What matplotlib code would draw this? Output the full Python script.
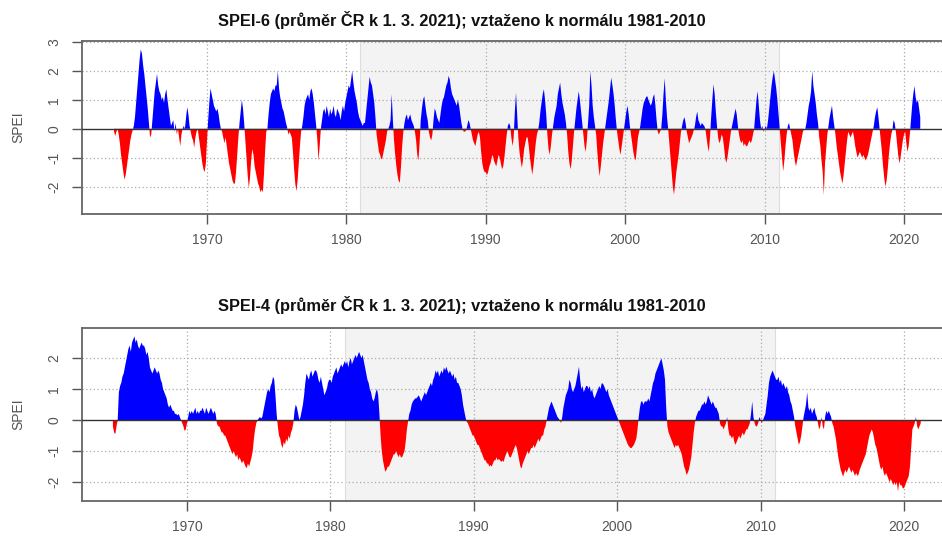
import numpy as np
import matplotlib
matplotlib.use("Agg")
import matplotlib.pyplot as plt

# ---------------- data (monthly values) ----------------
# SPEI-6, monthly from Jan 1963
spei6_start = 1963
spei6_1960s = [
    np.nan, np.nan, np.nan, np.nan, -0.1, -0.25, -0.1, 0.0, -0.2, -0.5, -0.9, -1.2,   # 1963
    -1.5, -1.76, -1.6, -1.3, -1.0, -0.7, -0.4, -0.2, -0.05, 0.1, 0.4, 0.9,          # 1964
    1.4, 1.9, 2.4, 2.75, 2.6, 2.2, 1.9, 1.5, 1.1, 0.7, 0.2, -0.3,                   # 1965
    -0.2, 0.3, 0.8, 1.3, 1.6, 1.9, 1.5, 1.3, 1.2, 1.0, 1.1, 0.9,                    # 1966
    1.2, 1.37, 1.0, 0.7, 0.4, 0.1, 0.2, 0.3, -0.1, 0.2, -0.2, 0.0,                  # 1967
    -0.3, -0.6, -0.2, 0.0, 0.1, 0.0, 0.4, 0.75, 0.5, 0.1, -0.1, -0.3,               # 1968
    -0.4, -0.65, -0.3, -0.1, 0.0, -0.3, -0.6, -0.9, -1.2, -1.4, -1.5, -1.2,         # 1969
]
spei6_1970s = [
    -0.4, 0.3, 0.9, 1.4, 1.2, 1.0, 0.8, 0.7, 0.6, 0.7, 0.5, 0.2,
    0.0, -0.1, -0.3, -0.5, -0.3, -0.6, -0.9, -1.2, -1.4, -1.6, -1.8, -1.9,
    -1.9, -1.5, -0.9, -0.3, 0.2, 0.6, 1.0, 0.7, 0.2, -0.4, -1.0, -1.6,
    -2.05, -1.7, -1.1, -0.7, -0.9, -1.3, -1.5, -1.7, -1.9, -2.0, -2.2, -2.1,
    -2.2, -1.6, -0.8, -0.1, 0.0, 0.5, 0.9, 1.2, 1.3, 1.4, 1.3, 1.5,
    1.5, 2.0, 1.4, 1.1, 0.9, 0.7, 0.6, 0.4, 0.2, 0.05, -0.2, -0.1,
    -0.2, -0.3, -0.8, -1.4, -1.9, -2.16, -1.8, -1.2, -0.6, -0.1, 0.1, 0.4,
    0.8, 1.0, 1.1, 1.2, 1.0, 1.3, 1.4, 1.2, 0.9, 0.5, 0.1, -0.4,
    -1.1, -0.6, 0.0, 0.3, 0.6, 0.7, 0.5, 0.8, 0.6, 0.4, 0.7, 0.5,
    0.6, 0.8, 0.5, 0.4, 0.7, 0.6, 0.5, 0.3, 0.6, 0.8, 0.6, 0.9,
]
spei6_1980s = [
    1.1, 1.3, 1.5, 1.4, 1.7, 2.0, 1.6, 1.3, 1.1, 0.9, 0.6, 0.4,
    0.3, 0.2, 0.1, 0.2, 0.2, 0.6, 1.0, 1.4, 1.8, 1.6, 1.5, 1.2,
    0.9, 0.4, -0.2, -0.5, -0.8, -0.9, -1.06, -1.0, -0.8, -0.6, -0.4, -0.1,
    0.0, 0.1, 0.3, 1.2, 0.3, -0.4, -0.9, -1.3, -1.6, -1.8, -1.87, -1.3,
    -0.6, -0.1, 0.2, 0.4, 0.5, 0.3, 0.4, 0.5, 0.3, 0.2, 0.1, -0.1,
    -0.4, -0.9, -1.1, -0.5, 0.3, 0.7, 1.0, 1.13, 0.8, 0.5, 0.3, -0.1,
    -0.3, -0.4, -0.2, 0.3, 0.7, 0.6, 0.4, 0.3, 0.2, 0.5, 0.8, 1.0,
    1.1, 1.3, 1.5, 1.6, 1.83, 1.7, 1.4, 1.2, 1.1, 1.0, 0.9, 0.8,
    1.0, 0.8, 0.5, 0.2, 0.0, -0.1, -0.1, -0.05, 0.1, 0.3, 0.2, 0.0,
    -0.2, -0.4, -0.5, -0.6, -0.4, -0.2, -0.1, -0.3, -0.8, -1.2, -1.4, -1.5,
]
spei6_1990s = [
    -1.5, -1.6, -1.5, -1.3, -1.2, -1.0, -0.9, -1.1, -1.2, -1.3, -1.1, -0.9,
    -1.0, -1.2, -1.4, -1.3, -1.0, -0.6, -0.2, 0.1, 0.2, 0.1, -0.3, -0.6,
    -0.3, 0.6, 1.25, 0.5, -0.3, -0.8, -1.1, -1.35, -1.1, -0.7, -0.5, -0.3,
    -0.3, -0.6, -1.0, -1.3, -1.59, -1.3, -0.9, -0.5, -0.2, -0.05, 0.2, 0.6,
    0.9, 1.2, 1.37, 1.0, 0.5, -0.2, -0.7, -0.9, -0.6, -0.2, 0.1, 0.4,
    0.6, 0.8, 1.2, 1.4, 1.6, 1.2, 0.9, 0.7, 0.5, 0.2, -0.2, -0.8,
    -1.2, -1.4, -1.1, -0.6, -0.1, 0.3, 0.7, 1.0, 1.3, 1.0, 0.6, 0.2,
    -0.2, -0.6, -0.8, -0.4, 0.2, 0.8, 2.0, 1.5, 0.8, 0.4, 0.1, -0.2,
    -0.8, -1.3, -1.64, -1.3, -0.9, -0.5, -0.2, 0.1, 0.4, 0.7, 1.0, 1.4,
    1.77, 1.5, 1.2, 0.8, 0.3, -0.1, -0.4, -0.7, -0.9, -0.6, -0.3, 0.0,
]
spei6_2000s = [
    0.3, 0.6, 0.8, 0.5, 0.1, -0.2, -0.5, -0.8, -1.0, -1.1, -0.7, -0.3,
    -0.1, 0.1, 0.4, 0.7, 0.9, 1.0, 1.1, 1.13, 1.0, 0.9, 0.8, 0.9,
    1.1, 1.2, 0.8, 0.3, -0.1, -0.2, -0.1, 0.0, 0.5, 1.2, 1.75, 1.0,
    0.4, 0.0, -0.5, -1.0, -1.5, -2.0, -2.28, -1.9, -1.5, -1.2, -0.9, -0.5,
    -0.1, 0.1, 0.3, 0.4, 0.2, -0.1, -0.3, -0.5, -0.4, -0.3, -0.2, -0.05,
    0.1, 0.4, 0.6, 0.3, 0.2, 0.1, 0.2, 0.15, 0.1, 0.0, -0.3, -0.6,
    -0.8, -0.3, 0.4, 1.0, 1.54, 1.2, 0.6, 0.1, -0.3, -0.5, -0.4, -0.2,
    -0.3, -0.6, -1.0, -1.18, -1.0, -0.7, -0.4, -0.1, 0.1, 0.3, 0.5, 0.7,
    0.5, 0.1, -0.2, -0.4, -0.5, -0.4, -0.6, -0.5, -0.6, -0.6, -0.5, -0.4,
    -0.5, -0.4, -0.2, 0.0, 0.5, 1.0, 1.3, 0.8, 0.3, 0.0, 0.1, -0.1,
]
spei6_2010s = [
    0.0, 0.1, 0.0, 0.3, 0.7, 1.1, 1.5, 1.8, 2.0, 1.7, 1.4, 1.0,
    0.5, 0.0, -0.5, -1.0, -1.47, -1.1, -0.6, -0.2, 0.1, 0.2, 0.0, -0.2,
    -0.4, -0.8, -1.1, -1.3, -1.1, -0.9, -0.7, -0.5, -0.3, -0.1, 0.0, 0.0,
    0.2, 0.5, 0.8, 1.0, 1.3, 2.0, 1.48, 1.2, 0.9, 0.5, 0.2, -0.3,
    -0.6, -1.1, -1.5, -2.3, -1.2, -0.7, -0.2, 0.1, 0.4, 0.6, 0.8, 0.4,
    0.1, -0.2, -0.6, -0.9, -1.2, -1.5, -1.7, -1.9, -1.6, -1.2, -0.8, -0.4,
    -0.1, -0.2, -0.3, -0.2, -0.1, -0.3, -0.6, -0.8, -1.0, -0.9, -0.8, -0.9,
    -1.0, -0.9, -1.0, -1.1, -1.0, -0.9, -0.7, -0.5, -0.3, -0.1, 0.1, 0.4,
    0.6, 0.75, 0.4, 0.0, -0.4, -0.8, -1.3, -1.7, -2.0, -1.8, -1.4, -0.9,
    -0.5, -0.2, -0.05, 0.3, 0.2, -0.1, -0.5, -0.9, -1.2, -1.0, -0.7, -0.4,
]
spei6_2020s = [
    -0.2, -0.1, -0.5, -0.8, -0.6, -0.2, 0.3, 0.8, 1.2, 1.48, 1.1, 0.9,
    1.0, 0.7, 0.4,
]

# SPEI-4 (long-term index), monthly from Jan 1964
spei4_start = 1964
spei4_1960s = [
    np.nan, np.nan, np.nan, np.nan, np.nan, np.nan, np.nan, np.nan, np.nan, np.nan, -0.2, -0.4,  # 1964
    -0.45, -0.2, 0.0, 0.9, 1.1, 1.2, 1.4, 1.5, 1.7, 1.9, 2.1, 2.3,
    2.4, 2.2, 2.5, 2.6, 2.7, 2.5, 2.6, 2.4, 2.3, 2.4, 2.5, 2.4,
    2.4, 2.3, 2.1, 2.2, 2.0, 1.7, 1.6, 1.5, 1.6, 1.7, 1.6, 1.5,
    1.6, 1.5, 1.3, 1.2, 1.0, 0.9, 0.8, 0.7, 0.5, 0.4, 0.5, 0.4,
    0.3, 0.3, 0.2, 0.2, 0.15, 0.2, 0.1, 0.0, -0.1, -0.2, -0.35, -0.3,
]
spei4_1970s = [
    -0.1, 0.1, 0.3, 0.2, 0.3, 0.2, 0.3, 0.4, 0.2, 0.3, 0.2, 0.3,
    0.3, 0.4, 0.3, 0.2, 0.4, 0.3, 0.2, 0.3, 0.4, 0.3, 0.2, 0.3,
    0.2, -0.1, -0.2, -0.2, -0.3, -0.4, -0.4, -0.5, -0.5, -0.6, -0.7, -0.8,
    -0.9, -1.0, -1.1, -1.0, -1.1, -1.2, -1.1, -1.3, -1.2, -1.3, -1.4, -1.3,
    -1.4, -1.5, -1.55, -1.4, -1.5, -1.35, -1.2, -1.0, -0.6, -0.3, -0.1, 0.0,
    0.05, 0.1, 0.05, 0.1, 0.3, 0.5, 0.7, 0.9, 1.0, 0.9, 1.1, 1.2,
    1.4, 1.3, 0.8, 0.2, -0.2, -0.5, -0.6, -0.8, -0.9, -0.7, -0.8, -0.6,
    -0.7, -0.5, -0.6, -0.4, -0.3, -0.1, 0.3, 0.5, 0.4, 0.2, 0.0, 0.1,
    0.3, 0.5, 0.8, 1.2, 1.5, 1.4, 1.3, 1.5, 1.6, 1.4, 1.5, 1.6,
    1.6, 1.5, 1.3, 1.2, 1.4, 1.2, 1.0, 0.8, 0.9, 1.0, 1.2, 1.3,
]
spei4_1980s = [
    1.3, 1.2, 1.4, 1.5, 1.6, 1.7, 1.5, 1.6, 1.7, 1.8, 1.7, 1.8,
    1.9, 1.8, 1.9, 1.7, 1.9, 2.0, 1.8, 1.9, 2.0, 2.1, 2.0, 2.1,
    2.2, 2.1, 2.0, 2.1, 1.9, 1.7, 1.5, 1.3, 1.2, 1.0, 0.9, 0.7,
    0.6, 0.7, 0.9, 1.0, 0.8, 0.2, -0.5, -1.0, -1.3, -1.5, -1.67, -1.6,
    -1.5, -1.5, -1.4, -1.3, -1.2, -1.1, -1.1, -1.0, -1.1, -1.2, -1.1, -1.2,
    -1.2, -1.1, -1.0, -0.7, -0.3, -0.05, 0.2, 0.3, 0.5, 0.6, 0.65, 0.7,
    0.7, 0.75, 0.8, 0.7, 0.6, 0.7, 0.8, 0.9, 0.8, 0.9, 1.0, 1.1,
    1.2, 1.1, 1.3, 1.4, 1.6, 1.5, 1.6, 1.4, 1.5, 1.6, 1.5, 1.7,
    1.6, 1.72, 1.6, 1.5, 1.6, 1.5, 1.4, 1.5, 1.3, 1.4, 1.2, 1.2,
    1.1, 1.0, 0.8, 0.5, 0.3, 0.1, -0.05, -0.1, -0.2, -0.3, -0.4, -0.5,
]
spei4_1990s = [
    -0.5, -0.6, -0.7, -0.8, -0.8, -0.9, -1.0, -1.1, -1.2, -1.3, -1.3, -1.4,
    -1.4, -1.5, -1.45, -1.5, -1.4, -1.3, -1.3, -1.2, -1.3, -1.25, -1.3, -1.35,
    -1.3, -1.35, -1.2, -1.1, -1.0, -1.1, -1.2, -1.2, -1.1, -1.0, -0.9, -0.8,
    -0.9, -1.1, -1.3, -1.5, -1.56, -1.4, -1.3, -1.2, -1.1, -1.0, -1.1, -1.0,
    -0.9, -0.9, -0.8, -0.9, -0.8, -0.7, -0.6, -0.7, -0.6, -0.5, -0.5, -0.3,
    -0.2, 0.0, 0.2, 0.4, 0.5, 0.6, 0.5, 0.4, 0.3, 0.2, 0.1, 0.05,
    0.0, -0.1, 0.1, 0.4, 0.6, 0.8, 0.9, 1.0, 1.3, 1.2, 1.0, 0.9,
    1.0, 1.1, 1.3, 1.5, 1.72, 1.3, 1.0, 1.1, 0.9, 1.0, 1.1, 1.1,
    1.0, 1.1, 0.9, 1.0, 0.8, 0.7, 0.8, 0.9, 1.0, 1.1, 1.0, 1.18,
    1.18, 1.1, 1.0, 0.9, 1.0, 0.8, 0.7, 0.6, 0.5, 0.4, 0.3, 0.2,
]
spei4_2000s = [
    0.1, 0.0, -0.1, -0.2, -0.3, -0.4, -0.5, -0.6, -0.7, -0.8, -0.85, -0.9,
    -0.9, -0.85, -0.8, -0.7, -0.6, -0.3, 0.1, 0.4, 0.6, 0.6, 0.5, 0.6,
    0.6, 0.6, 0.7, 0.6, 0.8, 1.0, 1.2, 1.3, 1.5, 1.6, 1.7, 1.8,
    1.9, 1.99, 1.8, 1.6, 1.3, 0.4, -0.2, -0.4, -0.5, -0.6, -0.7, -0.8,
    -0.9, -0.8, -0.85, -0.8, -0.9, -1.0, -1.1, -1.3, -1.5, -1.6, -1.77, -1.7,
    -1.6, -1.4, -1.2, -0.8, -0.4, -0.1, 0.1, 0.2, 0.3, 0.3, 0.4, 0.5,
    0.5, 0.6, 0.5, 0.6, 0.8, 0.7, 0.6, 0.5, 0.6, 0.5, 0.4, 0.4,
    0.3, 0.2, -0.1, -0.2, -0.2, -0.3, -0.2, -0.1, 0.1, -0.3, -0.5, -0.5,
    -0.6, -0.5, -0.7, -0.8, -0.7, -0.6, -0.5, -0.6, -0.5, -0.4, -0.5, -0.4,
    -0.3, -0.3, -0.2, -0.1, 0.2, 0.6, 0.1, -0.1, -0.2, -0.2, -0.1, 0.1,
]
spei4_2010s = [
    0.0, -0.1, 0.0, 0.1, 0.2, 0.5, 0.8, 1.2, 1.4, 1.5, 1.6, 1.5,
    1.4, 1.3, 1.3, 1.4, 1.2, 1.3, 1.1, 1.2, 1.1, 1.0, 1.1, 0.9,
    0.8, 0.6, 0.5, 0.3, 0.1, -0.2, -0.4, -0.6, -0.8, -0.7, -0.5, -0.2,
    0.1, 0.3, 0.5, 0.9, 0.4, 0.3, 0.4, 0.2, 0.3, 0.4, 0.2, 0.1,
    -0.1, -0.3, -0.2, 0.1, -0.2, -0.3, 0.1, 0.3, 0.2, 0.3, 0.2, 0.1,
    -0.1, -0.2, -0.4, -0.6, -0.9, -1.2, -1.4, -1.6, -1.7, -1.83, -1.7, -1.6,
    -1.7, -1.6, -1.5, -1.6, -1.7, -1.6, -1.7, -1.8, -1.7, -1.8, -1.75, -1.6,
    -1.5, -1.4, -1.3, -1.2, -1.1, -0.9, -0.7, -0.5, -0.4, -0.3, -0.4, -0.6,
    -0.8, -0.9, -1.1, -1.3, -1.5, -1.6, -1.5, -1.7, -1.8, -1.7, -1.8, -1.9,
    -2.0, -1.9, -2.0, -2.1, -2.0, -2.1, -2.0, -2.3, -2.0, -2.1, -2.1, -2.2,
]
spei4_2020s = [
    -2.2, -2.1, -2.0, -1.9, -1.8, -1.5, -0.9, -0.3, -0.2, -0.1, 0.1, -0.2,
    -0.3, -0.2, -0.1,
]

titles = [
    "SPEI-6 (průměr ČR k 1. 3. 2021); vztaženo k normálu 1981-2010",
    "SPEI-4 (průměr ČR k 1. 3. 2021); vztaženo k normálu 1981-2010",
]
normal_period = (1981, 2011)
year_ticks = [1970, 1980, 1990, 2000, 2010, 2020]

# ---------------- plotting ----------------
plt.rcParams['font.family'] = ['Liberation Sans', 'DejaVu Sans']
W, H = 942, 536
fig = plt.figure(figsize=(W / 100, H / 100), dpi=100)


def px_axes(left, top, right, bottom):
    return fig.add_axes([left / W, 1 - bottom / H, (right - left) / W, (bottom - top) / H])


def draw(ax, start, parts, xlim, ylim, yticks):
    vals = np.concatenate([np.asarray(p, dtype=float) for p in parts])
    t = start + np.arange(len(vals)) / 12.0
    ax.axvspan(normal_period[0], normal_period[1], color='#f3f3f3', zorder=0, lw=0)
    for yv in yticks:
        if yv != 0:
            ax.axhline(yv, color='#aaaaaa', lw=0.9, ls=(0, (1, 2)), zorder=1)
    for xv in year_ticks:
        ax.axvline(xv, color='#aaaaaa', lw=0.9, ls=(0, (1, 2)), zorder=1)
    ax.axvline(normal_period[0], color='#dddddd', lw=0.8, zorder=1)
    ax.axvline(normal_period[1], color='#dddddd', lw=0.8, zorder=1)
    ax.fill_between(t, 0, vals, where=vals >= 0, interpolate=True,
                    color='#0000ff', lw=0, zorder=2)
    ax.fill_between(t, 0, vals, where=vals <= 0, interpolate=True,
                    color='#ff0000', lw=0, zorder=2)
    ax.axhline(0, color='#333333', lw=1.0, zorder=3)
    ax.set_xlim(*xlim)
    ax.set_ylim(*ylim)
    ax.set_xticks(year_ticks)
    ax.set_yticks(yticks)
    ax.set_yticklabels([str(v) for v in yticks], rotation=90, va='center')
    ax.tick_params(axis='both', direction='out', length=7, width=1.0,
                   color='#555555', labelcolor='#555555', labelsize=10)
    ax.tick_params(axis='y', pad=8)
    ax.tick_params(axis='x', pad=7)
    for side in ['left', 'bottom', 'top']:
        ax.spines[side].set_color('#666666')
        ax.spines[side].set_linewidth(1.3)
    ax.spines['right'].set_visible(False)
    ax.set_ylabel('SPEI', color='#555555', fontsize=10)


ax1 = px_axes(82, 41, 946, 214)
draw(ax1, spei6_start,
     [spei6_1960s, spei6_1970s, spei6_1980s, spei6_1990s, spei6_2000s, spei6_2010s, spei6_2020s],
     (1970 - (207 - 82) / 13.94, 1970 + (946 - 207) / 13.94), (-2.95, 3.04), [-2, -1, 0, 1, 2, 3])

ax2 = px_axes(82, 328, 946, 501)
draw(ax2, spei4_start,
     [spei4_1960s, spei4_1970s, spei4_1980s, spei4_1990s, spei4_2000s, spei4_2010s, spei4_2020s],
     (1970 - (187 - 82) / 14.34, 1970 + (946 - 187) / 14.34), (-2.61, 2.97), [-2, -1, 0, 1, 2])

for ax in (ax1, ax2):
    # centre of the y-label near x = 18 px in the figure
    ax.yaxis.set_label_coords(-(82 - 25) / 864, 0.5)

fig.text(462 / W, 1 - 20 / H, titles[0], ha='center', va='center',
         fontsize=11.8, fontweight='bold', color='#111111')
fig.text(462 / W, 1 - 305 / H, titles[1], ha='center', va='center',
         fontsize=11.8, fontweight='bold', color='#111111')

fig.savefig('out.png', dpi=100)
